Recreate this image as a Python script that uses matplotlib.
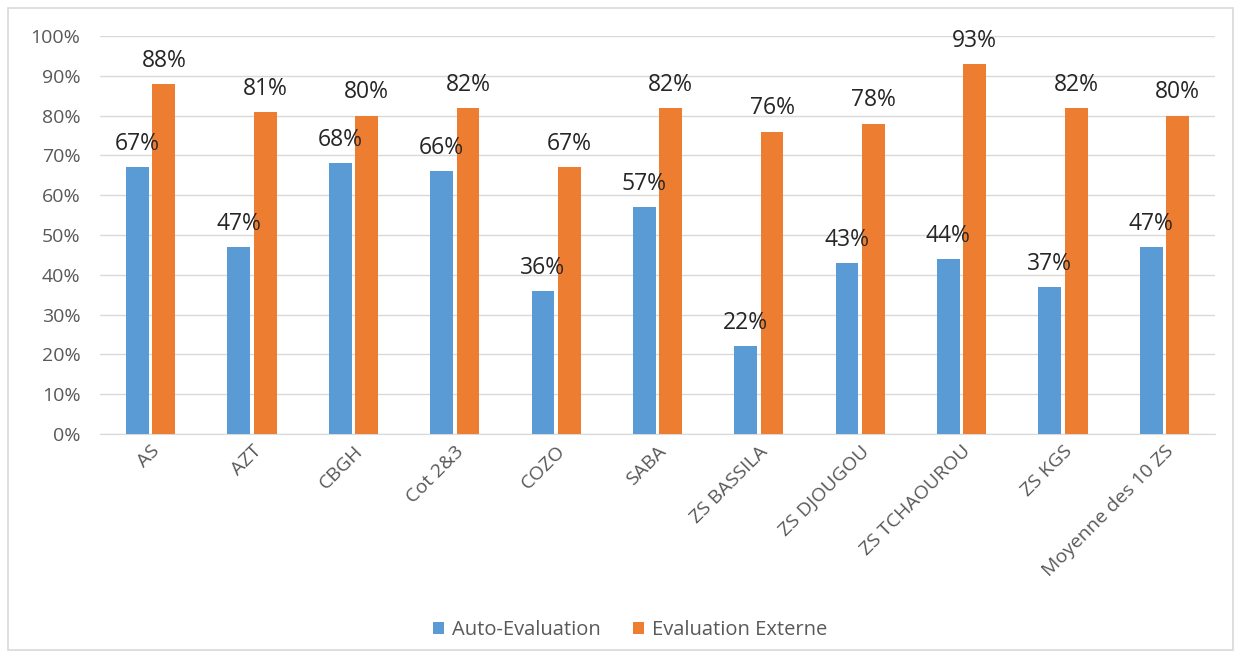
import matplotlib.pyplot as plt
import numpy as np
from matplotlib.patches import Rectangle
from matplotlib.ticker import FuncFormatter

categories = ["AS", "AZT", "CBGH", "Cot 2&3", "COZO", "SABA", "ZS BASSILA",
              "ZS DJOUGOU", "ZS TCHAOUROU", "ZS KGS", "Moyenne des 10 ZS"]
auto_eval = [67, 47, 68, 66, 36, 57, 22, 43, 44, 37, 47]
externe = [88, 81, 80, 82, 67, 82, 76, 78, 93, 82, 80]

blue = "#5B9BD5"
orange = "#ED7D31"
gray = "#595959"

plt.rcParams['font.family'] = ['Open Sans', 'DejaVu Sans']

fig = plt.figure(figsize=(12.41, 6.57), dpi=100)
fig.patches.append(Rectangle((8/1241, 7/657), 1225/1241, 642/657, transform=fig.transFigure,
                             fill=False, edgecolor="#D9D9D9", linewidth=1.2))

ax = fig.add_axes([100/1241, 1 - 434/657, 1115/1241, 398/657])

x = np.arange(len(categories))
w = 0.225
b1 = ax.bar(x - 0.13, auto_eval, w, color=blue, label="Auto-Evaluation", zorder=3)
b2 = ax.bar(x + 0.13, externe, w, color=orange, label="Evaluation Externe", zorder=3)

ax.bar_label(b1, fmt="%d%%", padding=8, fontsize=16.5, color="#262626")
ax.bar_label(b2, fmt="%d%%", padding=8, fontsize=16.5, color="#262626")

ax.set_xlim(-0.5, len(categories) - 0.5)
ax.set_ylim(0, 100)
ax.set_yticks(range(0, 101, 10))
ax.yaxis.set_major_formatter(FuncFormatter(lambda v, p: "%d%%" % v))
ax.grid(axis="y", color="#D9D9D9", linewidth=1, zorder=0)

ax.set_xticks(x)
ax.set_xticklabels(categories, rotation=45, ha="right", rotation_mode="anchor",
                   fontsize=14, color=gray)
ax.tick_params(axis="x", length=0, pad=6)
ax.tick_params(axis="y", length=0, pad=14, labelsize=14, labelcolor=gray)

for s in ["top", "right", "left"]:
    ax.spines[s].set_visible(False)
ax.spines["bottom"].set_color("#D9D9D9")

fig.legend(loc="center", bbox_to_anchor=(0.508, 1 - 630/657), ncol=2, frameon=False,
           fontsize=14.5, labelcolor=gray, handlelength=0.55, handleheight=0.55,
           columnspacing=1.6, handletextpad=0.4)

fig.savefig("out.png", dpi=100)
